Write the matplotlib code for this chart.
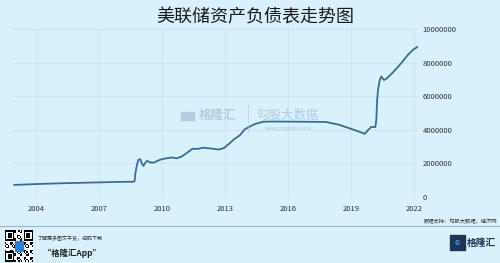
import numpy as np
import pandas as pd
import matplotlib
matplotlib.use("Agg")
import matplotlib.pyplot as plt
import matplotlib.dates as mdates

plt.rcParams['font.family'] = ['Noto Sans CJK SC', 'DejaVu Sans']

# 美联储资产负债表 (百万美元)
dates = ["2002-12-18", "2003-06-18", "2004-01-14", "2005-01-12", "2006-01-11",
         "2007-01-10", "2008-01-09", "2008-08-27", "2008-09-10", "2008-09-24",
         "2008-10-15", "2008-11-12", "2008-12-17", "2009-01-14", "2009-02-11",
         "2009-03-18", "2009-04-15", "2009-06-17", "2009-08-12", "2009-10-14",
         "2009-12-16", "2010-03-17", "2010-06-16", "2010-09-15", "2010-12-15",
         "2011-03-16", "2011-06-15", "2011-09-14", "2011-12-14", "2012-03-14",
         "2012-06-13", "2012-09-12", "2012-12-12", "2013-03-13", "2013-06-12",
         "2013-09-11", "2013-12-11", "2014-03-12", "2014-06-11", "2014-10-29",
         "2015-06-10", "2016-06-08", "2017-06-07", "2017-10-25", "2018-06-06",
         "2018-12-12", "2019-06-12", "2019-08-28", "2019-10-16", "2019-12-18",
         "2020-02-26", "2020-03-04", "2020-03-18", "2020-03-25", "2020-04-01",
         "2020-04-15", "2020-05-13", "2020-06-10", "2020-07-29", "2020-09-16",
         "2020-12-16", "2021-03-17", "2021-06-16", "2021-09-15", "2021-12-15",
         "2022-03-09"]
values = [720000, 740000, 770000, 810000, 840000,
          870000, 900000, 905000, 940000, 1400000,
          1800000, 2200000, 2250000, 2000000, 1850000,
          2050000, 2150000, 2050000, 2050000, 2150000,
          2240000, 2300000, 2350000, 2300000, 2420000,
          2640000, 2870000, 2860000, 2930000, 2900000,
          2870000, 2820000, 2910000, 3170000, 3450000,
          3660000, 4030000, 4200000, 4350000, 4480000,
          4490000, 4480000, 4470000, 4460000, 4300000,
          4080000, 3860000, 3760000, 3950000, 4170000,
          4160000, 4240000, 4670000, 5300000, 5800000,
          6370000, 6930000, 7170000, 6960000, 7060000,
          7360000, 7700000, 8060000, 8450000, 8760000,
          8940000]
tick_years = [2004, 2007, 2010, 2013, 2016, 2019, 2022]
y_ticks = [0, 2000000, 4000000, 6000000, 8000000, 10000000]

bg = "#d9f1fc"
wm = "#a9c3d6"
fig = plt.figure(figsize=(5, 2.63), dpi=100, facecolor=bg)
ax = fig.add_axes([0.0237, 0.251, 0.8127, 0.639], facecolor=bg)

x = pd.to_datetime(dates)
ax.plot(x, values, color="#3b6b98", lw=1.3, zorder=3)

ax.set_xlim(pd.Timestamp("2002-11-06"), pd.Timestamp("2022-03-15"))
ax.set_ylim(0, 10000000)
ax.set_xticks([pd.Timestamp(f"{y}-01-01") for y in tick_years])
ax.xaxis.set_major_formatter(mdates.DateFormatter("%Y"))
ax.set_yticks(y_ticks)
ax.set_yticklabels([str(v) for v in y_ticks])
ax.yaxis.tick_right()
ax.tick_params(axis="both", length=0, labelsize=5.5, colors="#333333")
ax.tick_params(axis="y", pad=3)
ax.tick_params(axis="x", pad=5.5)
for s in ax.spines.values():
    s.set_visible(False)
ax.grid(True, color="#c9e2f0", lw=0.6)

# 标题
fig.text(0.51, 0.935, "美联储资产负债表走势图", ha="center", va="center",
         fontsize=13, color="#1a1a1a")

# 水印
fig.add_artist(plt.Rectangle((0.362, 0.545), 0.026, 0.03, color=wm, alpha=0.7,
                             transform=fig.transFigure))
fig.text(0.398, 0.56, "格隆汇", ha="left", va="center", fontsize=9,
         color=wm, alpha=0.8, fontweight="bold")
fig.add_artist(plt.Line2D([0.496, 0.496], [0.5, 0.6], color=wm, lw=0.5, alpha=0.7))
fig.text(0.576, 0.56, "勾股大数据", ha="center", va="center", fontsize=9,
         color=wm, alpha=0.8)
fig.text(0.576, 0.51, "www.gogudata.com", ha="center", va="center", fontsize=3.5,
         color=wm, alpha=0.9)

# 底部
fig.add_artist(plt.Line2D([0, 1], [0.141, 0.141], color="#9db4c4", lw=0.8))
fig.text(0.994, 0.157, "数据支持：勾股大数据，经济网", ha="right", va="center",
         fontsize=3.8, color="#333333")
fig.text(0.074, 0.095, "了解更多图文干货，扫码下载", ha="left", va="center",
         fontsize=3.6, color="#333333", style="italic")
fig.text(0.085, 0.038, "“格隆汇App”", ha="left", va="center",
         fontsize=6, color="#222222", style="italic", fontweight="bold")

# 二维码
qr = fig.add_axes([0.01, 0.004, 0.056, 0.121])
i, j = np.indices((21, 21))
pattern = ((i * 7 + j * 3 + i * j) % 5 < 2).astype(float)
for (r, c) in [(0, 0), (0, 14), (14, 0)]:
    pattern[r:r + 7, c:c + 7] = 1
    pattern[r + 1:r + 6, c + 1:c + 6] = 0
    pattern[r + 2:r + 5, c + 2:c + 5] = 1
qr.imshow(pattern, cmap="Greys", interpolation="nearest", aspect="auto")
qr.add_patch(plt.Rectangle((7, 7), 6, 6, color="#2f7fd8"))
qr.axis("off")

# 格隆汇 logo
fig.add_artist(plt.Rectangle((0.9, 0.05), 0.03, 0.055, color="#1f3555",
                             transform=fig.transFigure))
fig.text(0.915, 0.077, "G", ha="center", va="center", fontsize=5,
         color="#4fa3e8", fontweight="bold")
fig.text(0.934, 0.077, "格隆汇", ha="left", va="center", fontsize=7,
         color="#1f3555", fontweight="bold")

fig.savefig("out.png", dpi=100, facecolor=bg)
